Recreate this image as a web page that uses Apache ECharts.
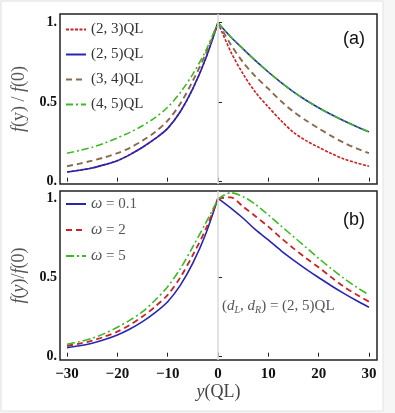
<!DOCTYPE html>
<html>
<head>
<meta charset="utf-8">
<script src="https://cdn.jsdelivr.net/npm/echarts@6/dist/echarts.min.js"></script>
<style>
  html, body { margin: 0; padding: 0; background: #f6f6f6; }
  #chart { width: 395px; height: 413px; }
</style>
</head>
<body>
<div id="chart"></div>
<script>
// x positions (QL), left and right of the cusp
var xLeft = [-30, -27.5, -25, -22.5, -20, -17.5, -15, -12.5, -10, -7.5, -5, -2.5, 0];
var xRight = [0, 2.5, 5, 7.5, 10, 12.5, 15, 17.5, 20, 22.5, 25, 27.5, 30];

// panel (a)
var a23Left = [0.061, 0.072, 0.086, 0.107, 0.132, 0.17, 0.216, 0.27, 0.335, 0.44, 0.585, 0.77, 1];
var a23Right = [1, 0.82, 0.677, 0.56, 0.47, 0.385, 0.31, 0.258, 0.216, 0.177, 0.143, 0.118, 0.097];
var a25Left = [0.061, 0.072, 0.086, 0.107, 0.132, 0.17, 0.216, 0.27, 0.335, 0.44, 0.585, 0.77, 1];
var a25Right = [1, 0.912, 0.835, 0.76, 0.69, 0.625, 0.565, 0.512, 0.465, 0.422, 0.383, 0.347, 0.313];
var a34Left = [0.097, 0.113, 0.132, 0.153, 0.179, 0.213, 0.258, 0.312, 0.384, 0.49, 0.635, 0.8, 1];
var a34Right = [1, 0.865, 0.75, 0.66, 0.585, 0.507, 0.44, 0.385, 0.335, 0.288, 0.245, 0.21, 0.179];
var a45Left = [0.179, 0.196, 0.216, 0.243, 0.275, 0.31, 0.352, 0.403, 0.468, 0.56, 0.677, 0.82, 1];
var a45Right = [1, 0.912, 0.835, 0.76, 0.69, 0.625, 0.565, 0.512, 0.465, 0.422, 0.383, 0.347, 0.313];

// panel (b)
var w01Left = [0.057, 0.069, 0.085, 0.108, 0.137, 0.175, 0.221, 0.278, 0.347, 0.45, 0.59, 0.77, 1];
var w01Right = [1, 0.94, 0.874, 0.8, 0.737, 0.67, 0.61, 0.553, 0.5, 0.448, 0.4, 0.355, 0.312];
var w2Left = [0.069, 0.083, 0.101, 0.127, 0.158, 0.201, 0.253, 0.316, 0.39, 0.5, 0.642, 0.8, 1];
var w2Right = [1, 1.006, 0.947, 0.885, 0.821, 0.75, 0.684, 0.622, 0.564, 0.502, 0.442, 0.393, 0.347];
var w5Left = [0.078, 0.095, 0.116, 0.147, 0.186, 0.231, 0.284, 0.356, 0.442, 0.555, 0.694, 0.84, 0.995];
var w5Right = [0.995, 1.035, 1.01, 0.96, 0.895, 0.826, 0.758, 0.69, 0.621, 0.556, 0.495, 0.44, 0.39];

var xTicks = [-30, -20, -10, 0, 10, 20, 30];
var xTickLabels = ['\u221230', '\u221220', '\u221210', '0', '10', '20', '30'];
var yTicks = [0, 0.5, 1];
var yTickLabels = ['0.', '0.5', '1.'];

var namesA = ['(2, 3)QL', '(2, 5)QL', '(3, 4)QL', '(4, 5)QL'];
var namesB = ['\u03c9 = 0.1', '\u03c9 = 2', '\u03c9 = 5'];

var RED = '#cc2222', BLUE = '#2626b2', BROWN = '#8a6a4c', GREEN = '#3cba22';
var SERIF = 'Liberation Serif';

function pts(xs, ys) {
  return xs.map(function (x, i) { return [x, ys[i]]; });
}

function curve(name, idx, xs, ys, color, type, width) {
  return {
    name: name, type: 'line', xAxisIndex: idx, yAxisIndex: idx,
    data: pts(xs, ys), symbol: 'none', showSymbol: false, smooth: 0.3,
    lineStyle: {color: color, type: type, width: width}, itemStyle: {color: color}
  };
}

function zeroLine(idx) {
  return {
    type: 'line', xAxisIndex: idx, yAxisIndex: idx, data: [], silent: true,
    markLine: {
      silent: true, symbol: 'none', label: {show: false},
      lineStyle: {color: '#dadada', type: 'solid', width: 1.5},
      data: [{xAxis: 0}]
    }
  };
}

function xAxis(idx, showLabels) {
  return {
    type: 'value', gridIndex: idx, min: -31.4, max: 31.6,
    axisLine: {show: false}, splitLine: {show: false},
    axisTick: {show: true, inside: true, length: 4, customValues: xTicks, lineStyle: {color: '#222', width: 1}},
    axisLabel: {
      show: showLabels, customValues: xTicks, margin: 7,
      fontFamily: SERIF, fontWeight: 'bold', fontSize: 15, color: '#111',
      formatter: function (v) { return xTickLabels[xTicks.indexOf(v)]; }
    },
    name: showLabels ? '{i|y}{n|(QL)}' : '', nameLocation: 'middle', nameGap: 22,
    nameTextStyle: {
      rich: {
        i: {fontFamily: SERIF, fontStyle: 'italic', fontSize: 18, color: '#444'},
        n: {fontFamily: SERIF, fontSize: 18, color: '#444'}
      }
    }
  };
}

function yAxis(idx, min, max, title) {
  return {
    type: 'value', gridIndex: idx, min: min, max: max,
    axisLine: {show: false}, splitLine: {show: false},
    axisTick: {show: true, inside: true, length: 4, customValues: yTicks, lineStyle: {color: '#222', width: 1}},
    axisLabel: {
      customValues: yTicks, margin: 3,
      fontFamily: SERIF, fontWeight: 'bold', fontSize: 14, color: '#111',
      formatter: function (v) { return yTickLabels[yTicks.indexOf(v)]; }
    },
    name: title, nameLocation: 'middle', nameRotate: 90, nameGap: 26,
    nameTextStyle: {
      rich: {
        i: {fontFamily: SERIF, fontStyle: 'italic', fontSize: 18, color: '#555'},
        n: {fontFamily: SERIF, fontSize: 18, color: '#555'}
      }
    }
  };
}

var legendText = {
  fontFamily: SERIF, fontSize: 15, color: '#333', lineHeight: 15,
  rich: {
    i: {fontFamily: SERIF, fontStyle: 'italic', fontSize: 16, color: '#555'},
    n: {fontFamily: SERIF, fontSize: 15, color: '#555'}
  }
};

var chart = echarts.init(document.getElementById('chart'));
chart.setOption({
  backgroundColor: '#f6f6f6',
  animation: false,
  grid: [
    {left: 60, top: 14, width: 317, height: 170, show: true, borderColor: '#222', borderWidth: 1.5, outerBoundsMode: 'none'},
    {left: 60, top: 191, width: 317, height: 169, show: true, borderColor: '#222', borderWidth: 1.5, outerBoundsMode: 'none'}
  ],
  xAxis: [xAxis(0, false), xAxis(1, true)],
  yAxis: [
    yAxis(0, -0.015, 1.055, '{i|f}{n|(y) / }{i|f}{n|(0)}'),
    yAxis(1, -0.021, 1.046, '{i|f}{n|(}{i|y}{n|)/}{i|f}{n|(0)}')
  ],
  legend: [
    {
      data: namesA, orient: 'vertical', left: 60, top: 17,
      itemWidth: 20, itemHeight: 14, itemGap: 10,
      itemStyle: {opacity: 0},
      textStyle: legendText
    },
    {
      data: namesB, orient: 'vertical', left: 60, top: 191,
      itemWidth: 20, itemHeight: 14, itemGap: 10,
      itemStyle: {opacity: 0},
      textStyle: legendText,
      formatter: function (name) { return '{i|\u03c9}{n| ' + name.slice(2) + '}'; }
    }
  ],
  graphic: [
    {type: 'rect', z: -10, silent: true, shape: {x: 1, y: 1, width: 382, height: 410},
      style: {fill: '#fff', stroke: '#e2e2e2', lineWidth: 1}},
    {type: 'text', left: 343, top: 30, style: {text: '(a)', font: '18px "Liberation Sans"', fill: '#111'}},
    {type: 'text', left: 343, top: 211, style: {text: '(b)', font: '18px "Liberation Sans"', fill: '#111'}},
    {type: 'text', left: 222, top: 299, style: {
      text: '{n|(}{i|d}{s|L}{n|, }{i|d}{s|R}{n|) = (2, 5)QL}',
      rich: {
        n: {fontFamily: SERIF, fontSize: 15, fill: '#555'},
        i: {fontFamily: SERIF, fontStyle: 'italic', fontSize: 15, fill: '#555'},
        s: {fontFamily: SERIF, fontStyle: 'italic', fontSize: 10, fill: '#555', padding: [7, 0, 0, 0]}
      }
    }}
  ],
  series: [
    zeroLine(0),
    curve(namesA[0], 0, xLeft, a23Left, RED, [3, 1.5], 1.6),
    curve(namesA[0], 0, xRight, a23Right, RED, [3, 1.5], 1.6),
    curve(namesA[1], 0, xLeft, a25Left, BLUE, 'solid', 1.6),
    curve(namesA[1], 0, xRight, a25Right, BLUE, 'solid', 1.6),
    curve(namesA[2], 0, xLeft, a34Left, BROWN, [6, 4], 1.9),
    curve(namesA[2], 0, xRight, a34Right, BROWN, [6, 4], 1.9),
    curve(namesA[3], 0, xLeft, a45Left, GREEN, [7, 3, 2, 3], 1.6),
    curve(namesA[3], 0, xRight, a45Right, GREEN, [7, 3, 2, 3], 1.6),
    zeroLine(1),
    curve(namesB[0], 1, xLeft, w01Left, BLUE, 'solid', 1.6),
    curve(namesB[0], 1, xRight, w01Right, BLUE, 'solid', 1.6),
    curve(namesB[1], 1, xLeft, w2Left, RED, [6, 4], 1.8),
    curve(namesB[1], 1, xRight, w2Right, RED, [6, 4], 1.8),
    curve(namesB[2], 1, xLeft, w5Left, GREEN, [8, 3, 2, 3], 1.6),
    curve(namesB[2], 1, xRight, w5Right, GREEN, [8, 3, 2, 3], 1.6)
  ]
});
</script>
</body>
</html>
